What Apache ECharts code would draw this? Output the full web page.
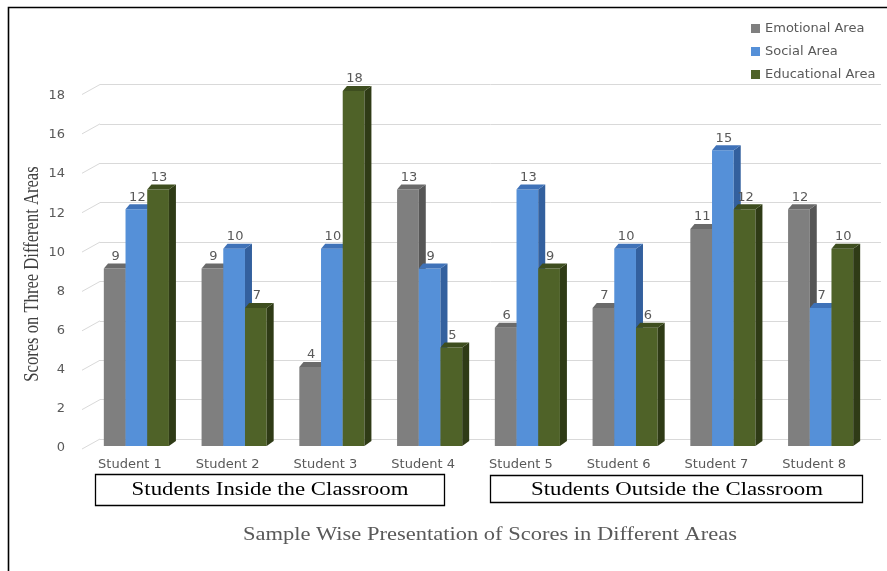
<!DOCTYPE html>
<html>
<head>
<meta charset="utf-8">
<script src="https://cdn.jsdelivr.net/npm/echarts@6/dist/echarts.min.js"></script>
<style>
  html, body { margin: 0; padding: 0; background: #ffffff; }
  #chart { width: 887px; height: 571px; }
</style>
</head>
<body>
<div id="chart"></div>
<script>
// Scores per student in the three assessed areas
const students = ['Student 1', 'Student 2', 'Student 3', 'Student 4',
                  'Student 5', 'Student 6', 'Student 7', 'Student 8'];
const emotional   = [9, 9, 4, 13, 6, 7, 11, 12];
const social      = [12, 10, 10, 9, 13, 10, 15, 7];
const educational = [13, 7, 18, 5, 9, 6, 12, 10];
const yTicks = [0, 2, 4, 6, 8, 10, 12, 14, 16, 18];

const groupLabels = ['Students Inside the Classroom', 'Students Outside the Classroom'];
const chartTitle = 'Sample Wise Presentation of Scores in Different Areas';
const yTitle = 'Scores on Three Different Areas';

const SANS = '"DejaVu Sans"';
const SERIF = '"Liberation Serif"';

// face colours: front, top, side
const palette = {
  emotional:   ['#7f7f7f', '#6a6a6a', '#565656'],
  social:      ['#5590d8', '#3f72b8', '#33609e'],
  educational: ['#4f6228', '#3e4e1f', '#2f3b16']
};

const DEPTH_X = 7, DEPTH_Y = -5;   // oblique depth of each column
const BAR_RATIO = 0.222;           // column width as a share of the category band
const GROUP_SHIFT = 6.5;           // columns sit slightly behind/right of the label

function cuboid(colors, slot) {
  return function (params, api) {
    const cat = api.value(0), val = api.value(1);
    const base = api.coord([cat, 0]);
    const top = api.coord([cat, val]);
    const band = api.size([1, 0])[0];
    const bw = band * BAR_RATIO;
    const x0 = base[0] + GROUP_SHIFT + (slot - 1.5) * bw;
    const x1 = x0 + bw;
    const yb = base[1], yt = top[1];
    return {
      type: 'group',
      children: [
        { type: 'rect', shape: { x: x0, y: yt, width: bw, height: yb - yt },
          style: { fill: colors[0] } },
        { type: 'polygon', shape: { points: [[x1, yt], [x1 + DEPTH_X, yt + DEPTH_Y],
            [x1 + DEPTH_X, yb + DEPTH_Y], [x1, yb]] }, style: { fill: colors[2] } },
        { type: 'polygon', shape: { points: [[x0, yt], [x1, yt],
            [x1 + DEPTH_X, yt + DEPTH_Y], [x0 + DEPTH_X * 0.6, yt + DEPTH_Y]] },
          style: { fill: colors[1] } },
        { type: 'text', x: (x0 + x1) / 2 + 1, y: yt - 12,
          style: { text: String(val), fill: '#595959', font: '13px ' + SANS,
                   align: 'center', verticalAlign: 'middle' } }
      ]
    };
  };
}

function pairs(arr) { return arr.map((v, i) => [i, v]); }

const chart = echarts.init(document.getElementById('chart'), null, { renderer: 'canvas' });

chart.setOption({
  backgroundColor: '#ffffff',
  animation: false,
  legend: {
    orient: 'vertical',
    left: 746, top: 17,
    itemWidth: 9, itemHeight: 9, itemGap: 10,
    icon: 'rect',
    textStyle: { color: '#595959', fontSize: 13, fontFamily: 'DejaVu Sans' },
    data: [
      { name: 'Emotional Area', itemStyle: { color: palette.emotional[0] } },
      { name: 'Social Area', itemStyle: { color: palette.social[0] } },
      { name: 'Educational Area', itemStyle: { color: palette.educational[0] } }
    ]
  },
  grid: [
    // back wall with gridlines
    { left: 100, right: 6, top: 84.5, bottom: 132 },
    // front plane carrying the columns and category labels
    { left: 81, right: 24, top: 91, bottom: 125 },
    // front edge of the floor, where the value labels sit
    { left: 82, right: 24, top: 95.7, bottom: 123 }
  ],
  xAxis: [
    { gridIndex: 0, type: 'value', min: 0, max: 1, show: false },
    { gridIndex: 1, type: 'category', data: students,
      axisLine: { show: false }, axisTick: { show: false }, splitLine: { show: false },
      axisLabel: { color: '#595959', fontSize: 13, fontFamily: 'DejaVu Sans', margin: 12 } },
    { gridIndex: 2, type: 'value', min: 0, max: 1, show: false }
  ],
  yAxis: [
    { gridIndex: 0, type: 'value', min: 0, max: 18, interval: 2,
      axisLine: { show: false }, axisTick: { show: false }, axisLabel: { show: false },
      splitLine: { lineStyle: { color: '#d9d9d9', width: 1 } } },
    { gridIndex: 1, type: 'value', min: 0, max: 18, interval: 2, show: false },
    { gridIndex: 2, type: 'value', min: 0, max: 18, interval: 2,
      axisLine: { show: false }, axisTick: { show: false }, splitLine: { show: false },
      axisLabel: { color: '#595959', fontSize: 13, fontFamily: 'DejaVu Sans', margin: 17 } }
  ],
  series: [
    {
      // slanted floor-to-wall stubs of the gridlines
      type: 'custom', xAxisIndex: 0, yAxisIndex: 0, silent: true,
      data: yTicks.map(v => [0, v]),
      renderItem: function (params, api) {
        const p = api.coord([0, api.value(1)]);
        return { type: 'line', shape: { x1: p[0] - 18, y1: p[1] + 10, x2: p[0], y2: p[1] },
                 style: { stroke: '#d9d9d9', lineWidth: 1 } };
      }
    },
    { name: 'Emotional Area', type: 'custom', xAxisIndex: 1, yAxisIndex: 1,
      data: pairs(emotional), renderItem: cuboid(palette.emotional, 0),
      itemStyle: { color: palette.emotional[0] } },
    { name: 'Social Area', type: 'custom', xAxisIndex: 1, yAxisIndex: 1,
      data: pairs(social), renderItem: cuboid(palette.social, 1),
      itemStyle: { color: palette.social[0] } },
    { name: 'Educational Area', type: 'custom', xAxisIndex: 1, yAxisIndex: 1,
      data: pairs(educational), renderItem: cuboid(palette.educational, 2),
      itemStyle: { color: palette.educational[0] } }
  ],
  graphic: [
    // outer frame (top and left edges)
    { type: 'polyline', shape: { points: [[8.5, 571], [8.5, 7.5], [887, 7.5]] },
      style: { stroke: '#000000', lineWidth: 1.6, fill: null } },
    // group boxes under the category labels
    { type: 'rect', shape: { x: 95.5, y: 474.5, width: 349, height: 31 },
      style: { stroke: '#000000', lineWidth: 1.3, fill: '#ffffff' } },
    { type: 'text', x: 270, y: 490, scaleX: 1.2,
      style: { text: groupLabels[0], font: '19px ' + SERIF, fill: '#000000',
               align: 'center', verticalAlign: 'middle' } },
    { type: 'rect', shape: { x: 490.5, y: 475.5, width: 372, height: 27 },
      style: { stroke: '#000000', lineWidth: 1.3, fill: '#ffffff' } },
    { type: 'text', x: 677, y: 490, scaleX: 1.2,
      style: { text: groupLabels[1], font: '19px ' + SERIF, fill: '#000000',
               align: 'center', verticalAlign: 'middle' } },
    // chart caption
    { type: 'text', x: 490, y: 535, scaleX: 1.25,
      style: { text: chartTitle, font: '18px ' + SERIF, fill: '#595959',
               align: 'center', verticalAlign: 'middle' } },
    // value axis title, narrow serif
    { type: 'text', x: 33, y: 274, rotation: Math.PI / 2, scaleX: 0.83,
      style: { text: yTitle, font: '20px ' + SERIF, fill: '#404040',
               align: 'center', verticalAlign: 'middle' } }
  ]
});
</script>
</body>
</html>
